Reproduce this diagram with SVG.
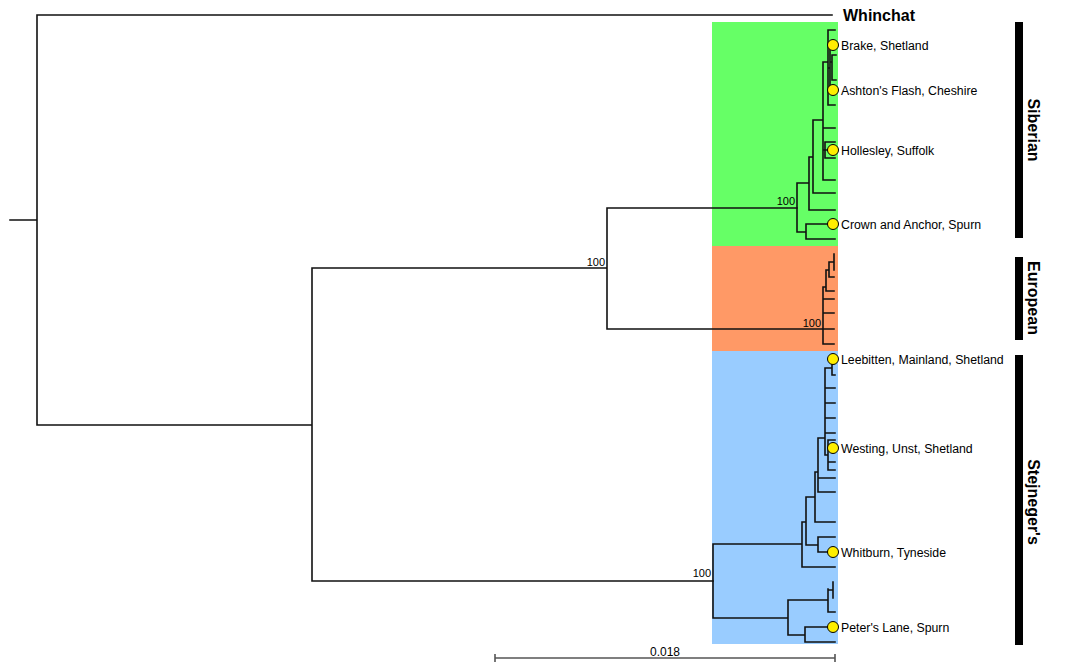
<svg xmlns="http://www.w3.org/2000/svg" width="1071" height="670" viewBox="0 0 1071 670">
<style>
.br{fill:none;stroke:#111;stroke-width:1.6;stroke-linecap:square}
.lbl{font-family:"Liberation Sans",Arial,sans-serif;font-size:12.3px;fill:#000}
.bs{font-family:"Liberation Sans",Arial,sans-serif;font-size:11px;fill:#000;text-anchor:end}
.clade{font-family:"Liberation Sans",Arial,sans-serif;font-size:16px;font-weight:bold;fill:#000;text-anchor:middle}
.dot{fill:#ffee00;stroke:#000;stroke-width:1}
.bar{fill:#000}
</style>
<rect width="1071" height="670" fill="#fff"/>
<g id="clade-bg">
<rect x="712" y="22" width="126" height="224" fill="#66ff66"/>
<rect x="712" y="246" width="126" height="105" fill="#ff9966"/>
<rect x="712" y="351" width="126" height="293" fill="#99ccff"/>
</g>
<g id="connectors">
<path class="br" d="M10 220H37M37 15V425M37 15H832M37 425H312M312 268V581M312 268H607M312 581H713M607 208V329M607 208H797M607 329H834"/>
<path class="br" d="M797 183V232M797 232H806M806 224V239M806 224H828M806 239H835M797 183H809M809 157V210M809 210H835M809 157H813M813 120V193M813 193H835M813 120H823M823 62V180M823 180H835M823 128H835M823 150H825M825 142V158M825 142H835M825 150H828M825 158H835M823 62H828M828 30V105M828 30H835M828 105H835M828 68H830M830 45V90M830 45H833M830 90H833M830 62H832M832 55V80M832 55H836M832 80H836"/>
<path class="br" d="M823 287V344M823 299H834M823 313H834M823 344H834M823 287H826M826 270V291M826 291H834M826 270H829M829 262V277M829 277H834M829 262H834M834 254V270"/>
<path class="br" d="M713 544V618M713 544H802M713 618H788M788 600V635M788 600H828M828 589V612M828 612H835M828 590H833M833 582V598M788 635H805M805 627V642M805 627H828M805 642H835M802 522V567M802 567H835M802 522H806M806 497V545M806 545H818M818 537V552M818 537H835M818 552H828M806 497H815M815 472V522M815 522H835M815 472H818M818 438V492M818 492H835M818 478H835M818 438H825M825 368V455M825 388H835M825 403H835M825 418H835M825 433H835M825 368H832M832 358V375M832 375H835M825 455H828M828 440V470M828 440H835M828 470H835M828 462H835"/>
</g>
<g id="bootstrap">
<text class="bs" x="605" y="266">100</text>
<text class="bs" x="795" y="205">100</text>
<text class="bs" x="821" y="327">100</text>
<text class="bs" x="711" y="577">100</text>
</g>
<g id="whinchat"><text x="843" y="21" font-family="Liberation Sans, Arial, sans-serif" font-size="16" font-weight="bold">Whinchat</text></g>
<g id="brake"><circle class="dot" cx="833" cy="45" r="5.5"/><text class="lbl" x="841" y="50">Brake, Shetland</text></g>
<g id="ashton"><circle class="dot" cx="833" cy="90" r="5.5"/><text class="lbl" x="841" y="95">Ashton's Flash, Cheshire</text></g>
<g id="hollesley"><circle class="dot" cx="833" cy="150" r="5.5"/><text class="lbl" x="841" y="155">Hollesley, Suffolk</text></g>
<g id="crown"><circle class="dot" cx="833" cy="224" r="5.5"/><text class="lbl" x="841" y="229">Crown and Anchor, Spurn</text></g>
<g id="leebitten"><circle class="dot" cx="833" cy="359" r="5.5"/><text class="lbl" x="841" y="364">Leebitten, Mainland, Shetland</text></g>
<g id="westing"><circle class="dot" cx="833" cy="448" r="5.5"/><text class="lbl" x="841" y="453">Westing, Unst, Shetland</text></g>
<g id="whitburn"><circle class="dot" cx="833" cy="552" r="5.5"/><text class="lbl" x="841" y="557">Whitburn, Tyneside</text></g>
<g id="peters"><circle class="dot" cx="833" cy="627" r="5.5"/><text class="lbl" x="841" y="632">Peter's Lane, Spurn</text></g>
<g id="siberian"><rect class="bar" x="1015" y="22" width="8" height="216"/><text class="clade" transform="translate(1028,130) rotate(90)">Siberian</text></g>
<g id="european"><rect class="bar" x="1015" y="257" width="8" height="83"/><text class="clade" transform="translate(1028,298) rotate(90)">European</text></g>
<g id="stejneger"><rect class="bar" x="1015" y="355" width="8" height="290"/><text class="clade" transform="translate(1028,502) rotate(90)">Stejneger's</text></g>
<g id="scale">
<path d="M495 658H835M495 654V662M835 654V662" fill="none" stroke="#555" stroke-width="1.6"/>
<text x="665" y="656" font-family="Liberation Sans, Arial, sans-serif" font-size="12" text-anchor="middle">0.018</text>
</g>
</svg>
